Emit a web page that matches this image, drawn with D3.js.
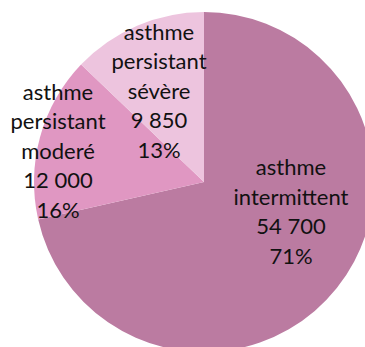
<!DOCTYPE html>
<html>
<head>
<meta charset="utf-8">
<script src="https://cdn.jsdelivr.net/npm/d3@7"></script>
<style>
  html, body { margin: 0; padding: 0; background: #fff; }
  svg { display: block; }
</style>
</head>
<body>
<svg id="chart" width="365" height="347"></svg>
<script>
// Asthma cases by severity
const categories = ["asthme intermittent", "asthme persistant moderé", "asthme persistant sévère"];
const labelLines = [
  ["asthme", "intermittent"],
  ["asthme", "persistant", "moderé"],
  ["asthme", "persistant", "sévère"]
];
const values = [54700, 12000, 9850];
const colors = ["#BB7BA1", "#E097C2", "#EDC4DE"];

// Label anchor offsets from the pie centre (px)
const labelOffsets = [[87, 30], [-146, -31], [-45, -91]];

const svg = d3.select("#chart");
const cx = 204, cy = 182, radius = 170;
const g = svg.append("g").attr("transform", `translate(${cx},${cy})`);

const total = d3.sum(values);
const pie = d3.pie().sort(null).value(d => d)(values);
const arc = d3.arc().innerRadius(0).outerRadius(radius);

g.selectAll("path.slice")
  .data(pie)
  .join("path")
  .attr("class", "slice")
  .attr("d", arc)
  .attr("fill", (d, i) => colors[i]);

const fmt = v => d3.format(",")(v).replace(/,/g, " ");
const pct = v => Math.round(v / total * 100) + "%";
const lineH = 29.5;

pie.forEach((d, i) => {
  const lines = labelLines[i].concat([fmt(values[i]), pct(values[i])]);
  const [ox, oy] = labelOffsets[i];
  const t = g.append("text")
    .attr("text-anchor", "middle")
    .attr("font-family", "Lato, 'Open Sans', sans-serif")
    .attr("font-size", 22)
    .attr("fill", "#111");
  const y0 = oy - (lines.length - 1) * lineH / 2;
  lines.forEach((s, k) => {
    t.append("tspan")
      .attr("x", ox)
      .attr("y", y0 + k * lineH)
      .attr("dy", "0.35em")
      .text(s);
  });
});
</script>
</body>
</html>
